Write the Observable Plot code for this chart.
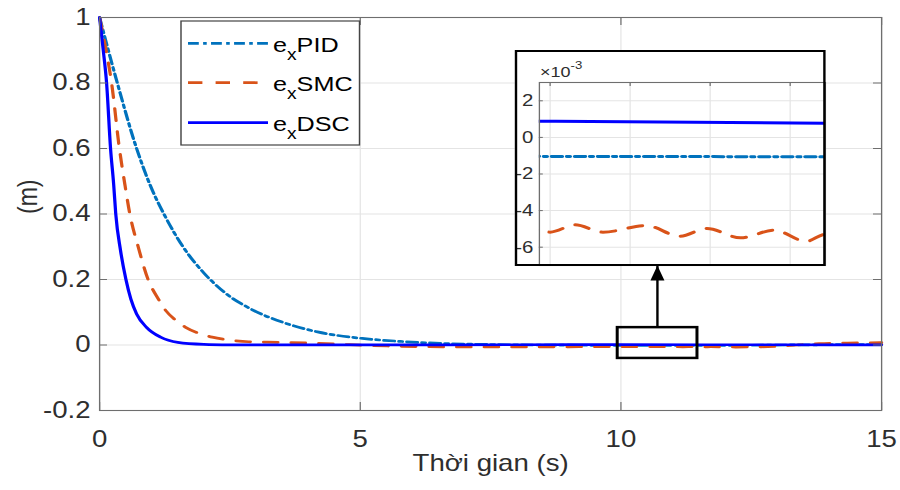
<!DOCTYPE html>
<html><head><meta charset="utf-8">
<script src="https://cdn.jsdelivr.net/npm/d3@7"></script>
<script src="https://cdn.jsdelivr.net/npm/@observablehq/plot@0.6"></script>
<style>
html,body{margin:0;padding:0;background:#fff;}
#wrap{position:relative;width:750px;height:490px;transform:scaleX(1.2);transform-origin:0 0;}
#inset{position:absolute;background:#fff;}
#inset svg{position:absolute;left:0;top:0;}
#insetBorder{position:absolute;left:0;top:0;right:0;bottom:0;border:2.5px solid #000;border-left-width:2.1px;border-right-width:2.1px;box-sizing:border-box;pointer-events:none;}
</style></head><body><div id="wrap"><div id="inset"><div id="insetBorder"></div></div></div>
<script>
// ---------- data ----------
const seriesNames = ["PID", "SMC", "DSC"];
const pidT = [0, 0.15, 0.34, 0.71, 0.965, 1.27, 1.6, 2.0, 2.4, 2.9, 3.54, 4.18, 5.04, 5.77, 6.73, 7.5, 8.5, 9.5, 10, 11, 11.8, 12.5, 13.5, 15];
const pidV = [1, 0.91, 0.8, 0.6, 0.49, 0.389, 0.3, 0.22, 0.16, 0.11, 0.068, 0.04, 0.02, 0.011, 0.004, 0.0015, -0.0002, -0.0009, -0.00104, -0.00105, -0.00106, -0.0008, 0.0004, 0.0015];
const smcT = [0, 0.1, 0.23, 0.38, 0.49, 0.58, 0.74, 0.93, 1.125, 1.27, 1.45, 1.65, 1.9, 2.16, 2.5, 2.86, 3.5, 4.2, 4.8, 5.5, 6.2, 7, 8, 9, 9.6, 9.933, 10.0, 10.156, 10.33, 10.6, 10.81, 10.98, 11.19, 11.4, 11.6, 11.72, 12.2, 12.7, 13.2, 13.8, 14.35, 15];
const smcV = [1, 0.92, 0.8, 0.6, 0.485, 0.4, 0.3, 0.2, 0.141, 0.105, 0.077, 0.054, 0.036, 0.024, 0.015, 0.01, 0.008, 0.005, 0.001, -0.003, -0.005, -0.006, -0.006, -0.0055, -0.0051, -0.00504, -0.00518, -0.00478, -0.00518, -0.00482, -0.0054, -0.00498, -0.00549, -0.00507, -0.00568, -0.0053, -0.0062, -0.0055, -0.002, 0.004, 0.006, 0.007];
const dscT = [0, 0.07, 0.134, 0.21, 0.27, 0.31, 0.4, 0.505, 0.6, 0.71, 0.9, 1.17, 1.5, 2.0, 2.5, 3, 5, 8, 10, 11.72, 13, 15];
const dscV = [1, 0.9, 0.8, 0.6, 0.49, 0.4, 0.29, 0.2, 0.14, 0.095, 0.054, 0.024, 0.008, 0.002, 0.0006, 0.0003, 0.0005, 0.0008, 0.00088, 0.00077, 0.0007, 0.0006];

const xTicks = [0, 5, 10, 15];
const yTicks = [-0.2, 0, 0.2, 0.4, 0.6, 0.8, 1];
const xDomain = [0, 15];
const yDomain = [-0.2, 1];
const xLabel = "Thời gian (s)";
const yLabel = "(m)";

const insetXDomain = [9.933, 11.72];
const insetYDomain = [-7, 3];
const insetXTicks = [10, 10.5, 11, 11.5];
const insetYTicks = [2, 0, -2, -4, -6];
const insetScale = 1000;          // values shown ×10^-3
const insetExpLabel = ["×10", "-3"];

const zoomBox = [{x1: 9.94, x2: 11.47, y1: -0.041, y2: 0.053}];
const zoomArrow = [{x: 10.7, yFrom: 0.053, yTo: 0.243}];

// ---------- style ----------
const colors = ["#0072BD", "#D95319", "#0000FF"];
const dashes = ["9,3.6,3,3.6", "12,11", null];
const S = 1.2;                     // horizontal stretch of the reference
const W = 900 / S, H = 490;
const FONT = '"Liberation Sans", Arial, Helvetica, sans-serif';
const axisColor = "#6e6e6e", textColor = "#2e2e2e", gridColor = "#e4e4e4";

const rows = (T, V) => T.map((t, i) => ({t, v: V[i]}));
const series = [rows(pidT, pidV), rows(smcT, smcV), rows(dscT, dscV)];

const mL = 99 / S, mR = 19 / S, mT = 17, mB = 80;
const pxPerX = (W - mL - mR) / (xDomain[1] - xDomain[0]);
const pxPerY = (H - mT - mB) / (yDomain[1] - yDomain[0]);
const tkX = 8 / S / pxPerX, tkY = 8 / pxPerY;

const lineMarks = (scaleV, sw, clip) => series.map((d, i) => Plot.line(d, {
  x: "t", y: r => r.v * scaleV, stroke: colors[i], strokeWidth: sw, curve: "monotone-x",
  strokeDasharray: dashes[i] ?? undefined, clip
}));

const headSymbol = {draw(ctx) { const h = 15, w = 14 / S; ctx.moveTo(0, 0); ctx.lineTo(w / 2, h); ctx.lineTo(-w / 2, h); ctx.closePath(); }};

const main = Plot.plot({
  width: W, height: H, marginLeft: mL, marginRight: mR, marginTop: mT, marginBottom: mB,
  style: {fontFamily: FONT, fontSize: "23px", color: textColor, background: "#fff", overflow: "visible"},
  x: {domain: xDomain, axis: null}, y: {domain: yDomain, axis: null},
  marks: [
    Plot.gridX(xTicks, {stroke: gridColor, strokeOpacity: 1}),
    Plot.gridY(yTicks, {stroke: gridColor, strokeOpacity: 1}),
    ...lineMarks(1, 2.7, false),
    Plot.ruleY(yTicks, {x1: xDomain[0], x2: xDomain[0] + tkX, stroke: axisColor}),
    Plot.ruleY(yTicks, {x1: xDomain[1] - tkX, x2: xDomain[1], stroke: axisColor}),
    Plot.ruleX(xTicks, {y1: yDomain[0], y2: yDomain[0] + tkY, stroke: axisColor}),
    Plot.ruleX(xTicks, {y1: yDomain[1] - tkY, y2: yDomain[1], stroke: axisColor}),
    Plot.frame({stroke: axisColor, strokeWidth: 1.1}),
    Plot.axisX(xTicks, {tickSize: 0, tickPadding: 20, tickFormat: d => String(d), label: null, fill: textColor}),
    Plot.axisY(yTicks, {tickSize: 0, tickPadding: 7.5, tickFormat: d => String(d), label: null, fill: textColor}),
    Plot.text([xLabel], {frameAnchor: "bottom", dy: 60, fontSize: 23, fill: textColor}),
    Plot.text([yLabel], {frameAnchor: "left", dx: 23.3 - mL, rotate: -90, fontSize: 23, fill: textColor}),
    Plot.rect(zoomBox, {x1: "x1", x2: "x2", y1: "y1", y2: "y2", fill: "none", stroke: "#000", strokeWidth: 2.5}),
    Plot.link(zoomArrow, {x1: "x", x2: "x", y1: "yFrom", y2: "yTo", stroke: "#000", strokeWidth: 2}),
    Plot.dot(zoomArrow, {x: "x", y: "yTo", symbol: headSymbol, fill: "#000", stroke: "none", r: 5})
  ]
});
const wrap = document.getElementById("wrap");
wrap.insertBefore(main, wrap.firstChild);

// legend
const svg = d3.select(main);
const lg = svg.append("g").attr("text-anchor", "start");
lg.append("rect").attr("x", 181 / S).attr("y", 21).attr("width", (359.5 - 181) / S).attr("height", 124)
  .attr("fill", "#fff").attr("stroke", "#444").attr("stroke-width", 1.2);
const legendY = [43.3, 82.7, 122.7];
seriesNames.forEach((name, i) => {
  lg.append("line").attr("x1", 188 / S).attr("x2", 268 / S).attr("y1", legendY[i]).attr("y2", legendY[i])
    .attr("stroke", colors[i]).attr("stroke-width", 2.7).attr("stroke-dasharray", dashes[i]);
  const t = lg.append("text").attr("x", 273 / S).attr("y", legendY[i] + 8.4).attr("text-anchor", "start")
    .attr("font-family", FONT).attr("font-size", 21).attr("fill", "#000");
  t.append("tspan").text("e");
  t.append("tspan").attr("font-size", 16).attr("dy", 8).text("x");
  t.append("tspan").attr("dy", -8).text(name);
});

// inset
const iW = 311 / S, iH = 216, iL = 24 / S, iT = 32;
const ipxX = (iW - iL - 1 / S) / (insetXDomain[1] - insetXDomain[0]);
const ipxY = (iH - iT - 1) / (insetYDomain[1] - insetYDomain[0]);
const itX = 4 / S / ipxX, itY = 4 / ipxY;
const inset = Plot.plot({
  width: iW, height: iH, marginLeft: iL, marginTop: iT, marginRight: 1 / S, marginBottom: 1,
  style: {fontFamily: FONT, fontSize: "17px", color: textColor, background: "#fff", overflow: "visible"},
  x: {domain: insetXDomain, axis: null}, y: {domain: insetYDomain, axis: null},
  marks: [
    Plot.gridX(insetXTicks, {stroke: gridColor, strokeOpacity: 1}),
    Plot.gridY(insetYTicks, {stroke: gridColor, strokeOpacity: 1}),
    ...lineMarks(insetScale, 3, true),
    Plot.ruleY(insetYTicks, {x1: insetXDomain[0], x2: insetXDomain[0] + itX, stroke: axisColor}),
    Plot.ruleX(insetXTicks, {y1: insetYDomain[1] - itY, y2: insetYDomain[1], stroke: axisColor}),
    Plot.frame({stroke: axisColor, strokeWidth: 1.1}),
    Plot.axisY(insetYTicks, {tickSize: 0, tickPadding: 5, tickFormat: d => String(d), label: null, fill: textColor})
  ]
});
const insetDiv = document.getElementById("inset");
insetDiv.style.left = (515 / S) + "px";
insetDiv.style.top = "50px";
insetDiv.style.width = iW + "px";
insetDiv.style.height = iH + "px";
insetDiv.insertBefore(inset, insetDiv.firstChild);
const et = d3.select(inset).append("text").attr("x", 21).attr("y", 27).attr("text-anchor", "start")
  .attr("font-family", FONT).attr("font-size", 15).attr("fill", textColor);
et.append("tspan").text(insetExpLabel[0]);
et.append("tspan").attr("font-size", 11).attr("dy", -8).text(insetExpLabel[1]);
</script></body></html>
